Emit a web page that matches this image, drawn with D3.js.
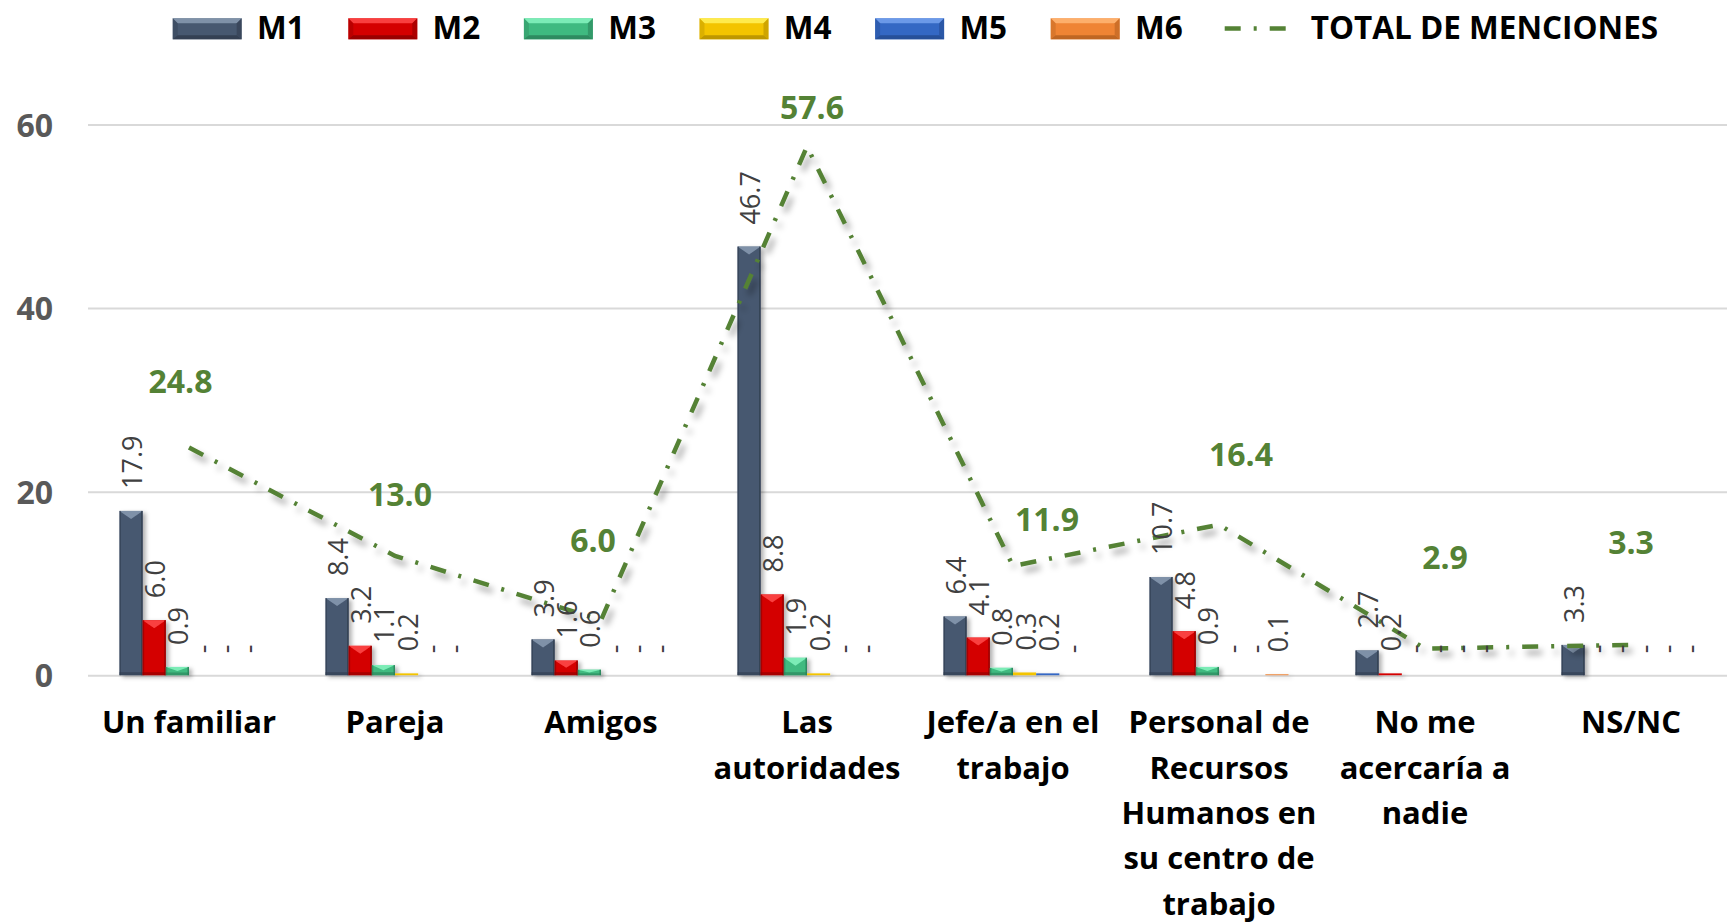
<!DOCTYPE html>
<html>
<head>
<meta charset="utf-8">
<script src="https://cdn.jsdelivr.net/npm/d3@7"></script>
<style>
  html, body { margin: 0; padding: 0; background: #fff; }
  svg { display: block; }
  text { font-family: "Open Sans", "Noto Sans", sans-serif; }
</style>
</head>
<body>
<svg id="chart" width="1727" height="923"></svg>
<script>
// ---------- DATA ----------
const categories = ["Un familiar", "Pareja", "Amigos", "Las autoridades", "Jefe/a en el trabajo",
  "Personal de Recursos Humanos en su centro de trabajo", "No me acercaría a nadie", "NS/NC"];
const categoryLabelLines = [
  ["Un familiar"], ["Pareja"], ["Amigos"], ["Las", "autoridades"], ["Jefe/a en el", "trabajo"],
  ["Personal de", "Recursos", "Humanos en", "su centro de", "trabajo"],
  ["No me", "acercaría a", "nadie"], ["NS/NC"]
];
const seriesNames = ["M1", "M2", "M3", "M4", "M5", "M6"];
const m1 = [17.9, 8.4, 3.9, 46.7, 6.4, 10.7, 2.7, 3.3];
const m2 = [6.0, 3.2, 1.6, 8.8, 4.1, 4.8, 0.2, 0];
const m3 = [0.9, 1.1, 0.6, 1.9, 0.8, 0.9, 0, 0];
const m4 = [0, 0.2, 0, 0.2, 0.3, 0, 0, 0];
const m5 = [0, 0, 0, 0, 0.2, 0, 0, 0];
const m6 = [0, 0, 0, 0, 0, 0.1, 0, 0];
const totalName = "TOTAL DE MENCIONES";
const totalMenciones = [24.8, 13.0, 6.0, 57.6, 11.9, 16.4, 2.9, 3.3];
const yTicks = [0, 20, 40, 60];

// ---------- LAYOUT / STYLE ----------
const seriesValues = [m1, m2, m3, m4, m5, m6];
const seriesColors = [
  { base: "#475870", light: "#8a9bb2", dark: "#2f3b4c" },
  { base: "#d40000", light: "#ff4a4a", dark: "#8a0000" },
  { base: "#3fba80", light: "#86f5c0", dark: "#2a8058" },
  { base: "#f3c400", light: "#fff25a", dark: "#b08c00" },
  { base: "#3468c4", light: "#76a2ee", dark: "#244a8f" },
  { base: "#ef8434", light: "#ffb676", dark: "#b35f1f" }
];
const lineColor = "#548235";
// manual offsets (px) of the total labels relative to their points
const totalLabelDx = [-8.5, 5, -8, 5, 34, 22, 20, 0];
const totalLabelDy = [-66, -61, -80, -38.5, -46, -70, -91, -102];

const W = 1727, H = 923;
const svg = d3.select("#chart");

const defs = svg.append("defs");
const fb = defs.append("filter").attr("id", "barShadow").attr("x", "-30%").attr("y", "-10%").attr("width", "160%").attr("height", "130%");
fb.append("feDropShadow").attr("dx", 3).attr("dy", 2).attr("stdDeviation", 2).attr("flood-color", "#000").attr("flood-opacity", 0.3);
const fl = defs.append("filter").attr("id", "lineShadow").attr("x", "-10%").attr("y", "-10%").attr("width", "120%").attr("height", "130%");
fl.append("feDropShadow").attr("dx", 4).attr("dy", 6).attr("stdDeviation", 3).attr("flood-color", "#000").attr("flood-opacity", 0.35);

const x0 = d3.scaleBand().domain(categories).range([86, 1734]).paddingInner(0.325).paddingOuter(0.1625);
const x1 = d3.scaleBand().domain(seriesNames).range([0, x0.bandwidth()]);
const y = d3.scaleLinear().domain([0, 60]).range([675.2, 124.5]);

// ---------- GRID + Y AXIS ----------
const yAxis = d3.axisLeft(y).tickValues(yTicks).tickSize(-(W - 88)).tickPadding(35).tickFormat(d3.format("d"));
const gy = svg.append("g").attr("transform", "translate(88,0)").call(yAxis);
gy.select(".domain").remove();
gy.selectAll(".tick line").attr("stroke", "#d9d9d9").attr("stroke-width", 2);
gy.selectAll(".tick text").attr("fill", "#595959").attr("font-size", 32).attr("font-weight", 700)
  .attr("font-family", "Open Sans").attr("dy", "0.36em");

// ---------- X AXIS ----------
const xAxis = d3.axisBottom(x0).tickSize(0).tickFormat("");
const gx = svg.append("g").attr("transform", `translate(0,${y(0)})`).call(xAxis);
gx.select(".domain").remove();
gx.selectAll(".tick").each(function (d, i) {
  const t = d3.select(this).select("text").attr("y", 0).attr("dy", null)
    .attr("fill", "#000").attr("font-size", 31).attr("font-weight", 700).attr("font-family", "Open Sans")
    .attr("text-anchor", "middle");
  categoryLabelLines[i].forEach((ln, k) => {
    t.append("tspan").attr("x", 0).attr("y", 58.1 + k * 45.4).text(ln);
  });
});

// ---------- BARS ----------
function bevel(g, x, yTop, w, h, c, tb) {
  g.append("rect").attr("x", x).attr("y", yTop).attr("width", w).attr("height", Math.max(h, 0)).attr("fill", c.base);
  if (h > 4) {
    const b = Math.min(tb, h / 2);
    g.append("polygon").attr("points", [[x, yTop], [x + w, yTop], [x + w / 2, yTop + b]].map(p => p.join(",")).join(" "))
      .attr("fill", c.light).attr("opacity", 0.85);
    g.append("rect").attr("x", x).attr("y", yTop).attr("width", 1.5).attr("height", h).attr("fill", c.dark).attr("opacity", 0.6);
    g.append("rect").attr("x", x + w - 1.5).attr("y", yTop).attr("width", 1.5).attr("height", h).attr("fill", c.dark).attr("opacity", 0.8);
    g.append("rect").attr("x", x).attr("y", yTop + h - Math.min(3, h / 3)).attr("width", w).attr("height", Math.min(3, h / 3)).attr("fill", c.dark).attr("opacity", 0.6);
  }
}

const barsG = svg.append("g");
categories.forEach((cat, ci) => {
  const g = barsG.append("g").attr("transform", `translate(${x0(cat)},0)`).attr("filter", "url(#barShadow)");
  seriesNames.forEach((s, si) => {
    const v = seriesValues[si][ci];
    if (v > 0) {
      bevel(g, x1(s), y(v), x1.bandwidth(), y(0) - y(v), seriesColors[si], 8);
    }
  });
});

// ---------- TOTAL LINE ----------
const cx = cat => x0(cat) + x0.bandwidth() / 2;
const line = d3.line().x((d, i) => cx(categories[i])).y(d => y(d));
svg.append("path").datum(totalMenciones).attr("d", line)
  .attr("fill", "none").attr("stroke", lineColor).attr("stroke-width", 4.5)
  .attr("stroke-dasharray", "16 13 3 13").attr("filter", "url(#lineShadow)");

// ---------- BAR LABELS ----------
const fmt = d3.format(".1f");
const labG = svg.append("g");
categories.forEach((cat, ci) => {
  seriesNames.forEach((s, si) => {
    const v = seriesValues[si][ci];
    const bx = x0(cat) + x1(s) + x1.bandwidth() / 2;
    labG.append("text")
      .attr("transform", `translate(${bx + 11},${y(v) - 22}) rotate(-90)`)
      .attr("text-anchor", "start").attr("font-size", 27).attr("fill", "#404040")
      .text(v > 0 ? fmt(v) : "-");
  });
});

// ---------- TOTAL LABELS ----------
totalMenciones.forEach((v, i) => {
  svg.append("text")
    .attr("x", cx(categories[i]) + totalLabelDx[i])
    .attr("y", y(v) + totalLabelDy[i] + 11.4)
    .attr("text-anchor", "middle").attr("font-size", 32).attr("font-weight", 700)
    .attr("fill", lineColor).text(fmt(v));
});

// ---------- LEGEND ----------
const leg = svg.append("g");
const legStep = 175.6, legX0 = 172.7;
seriesNames.forEach((s, i) => {
  const lx = legX0 + i * legStep, ly = 18.3, w = 69, h = 21, c = seriesColors[i];
  leg.append("rect").attr("x", lx).attr("y", ly).attr("width", w).attr("height", h).attr("fill", c.base);
  leg.append("polygon").attr("points", [[lx, ly], [lx + w, ly], [lx + w - 5, ly + 5], [lx + 5, ly + 5]].map(p => p.join(",")).join(" ")).attr("fill", c.light).attr("opacity", 0.85);
  leg.append("polygon").attr("points", [[lx, ly + h], [lx + w, ly + h], [lx + w - 5, ly + h - 4], [lx + 5, ly + h - 4]].map(p => p.join(",")).join(" ")).attr("fill", c.dark).attr("opacity", 0.8);
  leg.append("polygon").attr("points", [[lx, ly], [lx + 5, ly + 5], [lx + 5, ly + h - 4], [lx, ly + h]].map(p => p.join(",")).join(" ")).attr("fill", c.dark).attr("opacity", 0.35);
  leg.append("polygon").attr("points", [[lx + w, ly], [lx + w - 5, ly + 5], [lx + w - 5, ly + h - 4], [lx + w, ly + h]].map(p => p.join(",")).join(" ")).attr("fill", c.dark).attr("opacity", 0.55);
  leg.append("text").attr("x", lx + w + 15.3).attr("y", 39.3).attr("font-size", 31.5).attr("font-weight", 700)
    .attr("fill", "#000").text(s);
});
{
  const lx = legX0 + 6 * legStep - 1.6;
  leg.append("line").attr("x1", lx).attr("x2", lx + 61).attr("y1", 28.5).attr("y2", 28.5)
    .attr("stroke", lineColor).attr("stroke-width", 4.5).attr("stroke-dasharray", "16 13 3 13");
  leg.append("text").attr("x", lx + 86).attr("y", 39.3).attr("font-size", 31.5).attr("font-weight", 700)
    .attr("fill", "#000").text(totalName);
}
</script>
</body>
</html>
